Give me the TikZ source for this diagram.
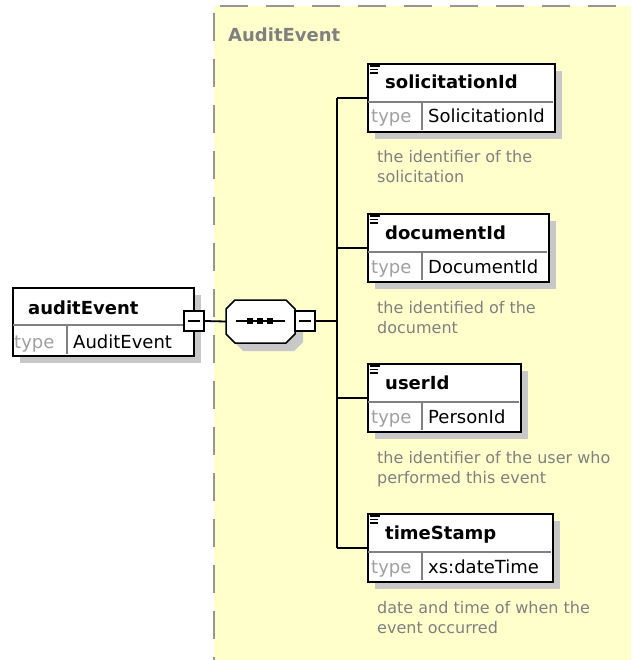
\documentclass[tikz,border=0pt]{standalone}
\usepackage{fontspec}
\setmainfont{DejaVu Sans}
\definecolor{bgyel}{RGB}{255,255,204}
\definecolor{dashgray}{RGB}{150,150,150}
\definecolor{shadowgray}{RGB}{200,200,200}
\definecolor{typegray}{RGB}{160,160,160}
\definecolor{descgray}{RGB}{128,128,128}
\definecolor{titlegray}{RGB}{128,128,128}
\newcommand{\xelem}[7]{%
  \fill[shadowgray] (375,#2+8) rectangle (367+#3+8,#2+76);
  \node[elbox, minimum width=#3 pt] (#1) at (367,#2) {};
  \draw[divider] (368,#2+39) -- (367+#3-1,#2+39);
  \draw[divider] (422,#2+39) -- (422,#2+67);
  \draw[line width=1.2pt] (370,#2+3) -- (380,#2+3);
  \draw[line width=1.2pt] (370,#2+6.5) -- (378,#2+6.5);
  \draw[line width=1.2pt] (370,#2+10) -- (378,#2+10);
  \node[namefont] (#1-name) at (385,#2+26) {#4};
  \node[typelbl] (#1-tl) at (371,#2+60) {type};
  \node[typeval] (#1-tv) at (428,#2+60) {#5};
  \node[desc] (#1-d1) at (377,#2+100) {#6};
  \node[desc] (#1-d2) at (377,#2+120) {#7};
}
\begin{document}
\begin{tikzpicture}[x=1pt,y=-1pt,
  elbox/.style={draw=black, line width=1.8pt, fill=white, anchor=north west, inner sep=0, minimum height=68pt},
  namefont/.style={font=\fontsize{18}{20}\selectfont\bfseries, anchor=base west, inner sep=0},
  typelbl/.style={font=\fontsize{18}{20}\selectfont, text=typegray, anchor=base west, inner sep=0},
  typeval/.style={font=\fontsize{18}{20}\selectfont, anchor=base west, inner sep=0},
  desc/.style={font=\fontsize{16}{20}\selectfont, text=descgray, anchor=base west, inner sep=0},
  divider/.style={draw=gray, line width=1.1pt},
  conn/.style={draw=black, line width=1.8pt},
  minusbox/.style={draw=black, line width=1.5pt, fill=white, minimum size=20pt, inner sep=0},
  dashbord/.style={draw=dashgray, line width=1.6pt, dash pattern=on 28pt off 18pt},
]
\useasboundingbox (0,0) rectangle (631,660);
% group background
\fill[bgyel] (214,6) rectangle (631,660);
\draw[dashbord] (220,6) -- (631,6);
\draw[dashbord] (214,13) -- (214,660);
\node[font=\fontsize{18}{20}\selectfont\bfseries, text=titlegray, anchor=base west, inner sep=0] (title) at (228,42) {AuditEvent};

% root element
\fill[shadowgray] (20,295) rectangle (201,363);
\node[elbox, minimum width=181pt] (ae) at (12,287) {};
\draw[divider] (13,325) -- (192,325);
\draw[divider] (67,325) -- (67,354);
\node[namefont] (ae-name) at (28,314) {auditEvent};
\node[typelbl] (ae-tl) at (14,348) {type};
\node[typeval] (ae-tv) at (73,348) {AuditEvent};

% sequence compositor
\fill[shadowgray] (243,308) -- (294,308) -- (303,317) -- (303,342) -- (294,351) -- (243,351) -- (234,342) -- (234,317) -- cycle;
\node[minimum width=69pt, minimum height=43pt, inner sep=0] (seq) at (260.5,321.5) {};
\draw[line width=1.5pt, fill=white] (235,300) -- (286,300) -- (295,309) -- (295,334) -- (286,343) -- (235,343) -- (226,334) -- (226,309) -- cycle;
\draw[line width=1.5pt] (236,321) -- (285,321);
\fill (247,318) rectangle (253,324);
\fill (257,318) rectangle (263,324);
\fill (267,318) rectangle (273,324);

% minus boxes
\node[minusbox] (lm) at (194,321) {};
\draw[line width=1.5pt] ([xshift=-6pt]lm.center) -- ([xshift=6pt]lm.center);
\node[minusbox] (rm) at (305,321) {};
\draw[line width=1.5pt] ([xshift=-6pt]rm.center) -- ([xshift=6pt]rm.center);
\draw[conn] (lm.east) -- (seq.west);

% children
\xelem{sol}{63}{187}{solicitationId}{SolicitationId}{the identifier of the}{solicitation}
\xelem{doc}{213}{181}{documentId}{DocumentId}{the identified of the}{document}
\xelem{usr}{363}{153}{userId}{PersonId}{the identifier of the user who}{performed this event}
\xelem{ts}{513}{185}{timeStamp}{xs:dateTime}{date and time of when the}{event occurred}

% connectors
\coordinate (tt) at (337,97);
\draw[conn] (rm.east) -- (rm.east -| tt);
\draw[conn] (sol.west -| tt) -- (ts.west -| tt);
\draw[conn] (sol.west -| tt) -- (sol.west);
\draw[conn] (doc.west -| tt) -- (doc.west);
\draw[conn] (usr.west -| tt) -- (usr.west);
\draw[conn] (ts.west -| tt) -- (ts.west);
\end{tikzpicture}
\end{document}
